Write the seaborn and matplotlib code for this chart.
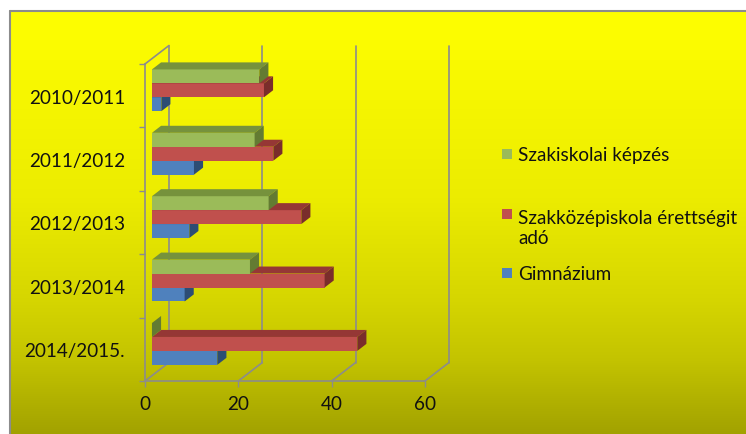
import numpy as np
import pandas as pd
import seaborn as sns
import matplotlib
matplotlib.use("Agg")
from matplotlib import pyplot as plt
from matplotlib.colors import to_rgb
from matplotlib.lines import Line2D
from matplotlib.patches import Polygon, Rectangle
from matplotlib.transforms import ScaledTranslation, IdentityTransform

years = ["2010/2011", "2011/2012", "2012/2013", "2013/2014", "2014/2015."]
series = ["Szakiskolai képzés", "Szakközépiskola érettségit adó", "Gimnázium"]
szakiskolai = [23, 22, 25, 21, 0]
szakkozep = [24, 26, 32, 37, 44]
gimnazium = [2, 9, 8, 7, 14]
xticks = [0, 20, 40, 60]

front_cols = ["#9BBB59", "#C0504D", "#4F81BD"]
top_cols = ["#76923C", "#953735", "#375D8C"]
side_cols = ["#637B32", "#7A2D2B", "#2D4D74"]
grid_col = "#8C8C8C"

df = pd.DataFrame({
    "year": years * 3,
    "type": np.repeat(series, len(years)),
    "value": szakiskolai + szakkozep + gimnazium,
})

sns.set_theme(style="white")
plt.rcParams["font.family"] = ["Lato", "DejaVu Sans"]

W, H, DPI = 746, 435, 100
FS = 13.6
fig = plt.figure(figsize=(W / DPI, H / DPI), dpi=DPI)
fig.patch.set_facecolor("white")

def px(x, y):
    # pixel position (from top-left) -> figure fraction
    return x / W, 1 - y / H

# yellow gradient background
bg = fig.add_axes([10 / W, 0, 1 - 10 / W, (H - 11.5) / H], zorder=-10)
rows = np.arange(12, H + 1)
shade = np.interp(rows, [12, 200, 300, 360, 435], [255, 236, 214, 196, 162]) / 255
img = np.zeros((len(rows), 1, 3))
img[:, 0, 0] = shade
img[:, 0, 1] = shade
bg.imshow(img, aspect="auto", extent=[0, 1, 0, 1])
bg.axis("off")
fig.add_artist(Line2D([10 / W, 10 / W], [0, 1 - 11.5 / H], color=grid_col, lw=1.5))
fig.add_artist(Line2D([10 / W, 1], [1 - 11.5 / H, 1 - 11.5 / H], color=grid_col, lw=1.5))

# front plane of the 3d box
L, R, T, B = 145, 425, 65, 382
ax = fig.add_axes([L / W, (H - B) / H, (R - L) / W, (B - T) / H])
ax.patch.set_alpha(0)

sns.barplot(data=df, x="value", y="year", hue="type", hue_order=series,
            palette=front_cols, orient="h", width=0.66, saturation=1,
            legend=False, linewidth=0, ax=ax)
ax.set_xlim(0, 60)
ax.set_ylim(len(years) - 0.5, -0.5)
ax.set_xlabel("")
ax.set_ylabel("")

DX, DY = 24, 18.5       # depth of the box, pixels
f0, f1 = 0.29, 0.67     # bars sit between these depth fractions

def shift(f):
    return ax.transData + ScaledTranslation(f * DX / DPI, f * DY / DPI, fig.dpi_scale_trans)

def disp(x, y, f):
    return shift(f).transform((x, y))

# back wall and floor
for v in xticks:
    ax.plot([v, v], [-0.5, len(years) - 0.5], transform=shift(1), color=grid_col,
            lw=1.2, zorder=1, clip_on=False)
    a, b = disp(v, len(years) - 0.5, 0), disp(v, len(years) - 0.5, 1)
    ax.add_line(Line2D([a[0], b[0]], [a[1], b[1]], transform=IdentityTransform(),
                       color=grid_col, lw=1.2, zorder=1, clip_on=False))
a, b = disp(0, -0.5, 0), disp(0, -0.5, 1)
ax.add_line(Line2D([a[0], b[0]], [a[1], b[1]], transform=IdentityTransform(),
                   color=grid_col, lw=1.2, zorder=1, clip_on=False))

# turn flat bars into 3d blocks
ox, oy = (f1 - f0) * DX, (f1 - f0) * DY
zs = [5, 4, 3]
for p in list(ax.patches):
    rgb = to_rgb(p.get_facecolor())
    k = int(np.argmin([np.abs(np.subtract(rgb, to_rgb(c))).sum() for c in front_cols]))
    x0, x1 = p.get_x(), p.get_x() + p.get_width()
    y0, y1 = p.get_y(), p.get_y() + p.get_height()
    pts = shift(f0).transform([(x0, y0), (x1, y1)])
    l, r = pts[:, 0].min(), pts[:, 0].max()
    b, t = pts[:, 1].min(), pts[:, 1].max()
    p.set_transform(shift(f0))
    p.set_zorder(zs[k])
    p.set_clip_on(False)
    top = Polygon([(l, t), (r, t), (r + ox, t + oy), (l + ox, t + oy)],
                  closed=True, facecolor=top_cols[k], lw=0,
                  transform=IdentityTransform(), zorder=zs[k], clip_on=False)
    side = Polygon([(r, b), (r, t), (r + ox, t + oy), (r + ox, b + oy)],
                   closed=True, facecolor=side_cols[k], lw=0,
                   transform=IdentityTransform(), zorder=zs[k], clip_on=False)
    ax.add_patch(top)
    ax.add_patch(side)

# axes styling
for s in ["top", "right"]:
    ax.spines[s].set_visible(False)
for s in ["left", "bottom"]:
    ax.spines[s].set_color(grid_col)
    ax.spines[s].set_linewidth(1.2)
ax.set_xticks(xticks)
ax.set_xticklabels([str(v) for v in xticks])
ax.set_yticks(range(len(years)))
ax.set_yticklabels(years)
ax.set_yticks(np.arange(-0.5, len(years)), minor=True)
ax.tick_params(axis="x", which="major", bottom=True, length=4.3, width=1,
               color=grid_col, labelsize=FS, labelcolor="#111111", pad=5.5)
ax.tick_params(axis="y", which="major", left=True, length=0, pad=14.4,
               labelsize=FS, labelcolor="#111111")
ax.tick_params(axis="y", which="minor", left=True, length=4.3, width=1, color=grid_col)

# legend
legend_rows = [(series[0], 155), ("Szakközépiskola érettségit\nadó", 215), (series[2], 274)]
for (label, yc), col in zip(legend_rows, front_cols):
    fig.add_artist(Rectangle(px(502, yc + 5), 10 / W, 10 / H, transform=fig.transFigure,
                             facecolor=col, lw=0))
    nlines = label.count("\n")
    fig.text(*px(518, yc + 6.5 + 23 * nlines), label, fontsize=FS, color="#111111",
             va="baseline", ha="left", linespacing=1.22)

fig.savefig("out.png", dpi=DPI)
